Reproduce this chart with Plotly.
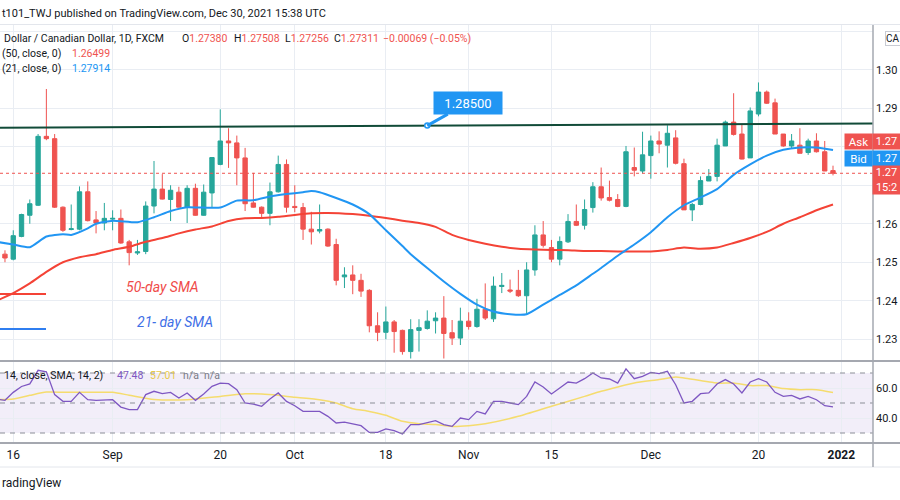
import numpy as np
import pandas as pd
import plotly.graph_objects as go

# ---------------- data ----------------
trading_days = pd.bdate_range("2021-08-13", "2022-01-03")

opens = [1.2521, 1.2508, 1.2567, 1.2622, 1.2648, 1.2827, 1.2821, 1.2643, 1.2585, 1.2586,
         1.2683, 1.2610, 1.2602, 1.2612, 1.2614, 1.2553, 1.2524, 1.2528, 1.2646, 1.2690,
         1.2663, 1.2682, 1.2643, 1.2692, 1.2622, 1.2680, 1.2754, 1.2815, 1.2810, 1.2771,
         1.2654, 1.2643, 1.2627, 1.2683, 1.2754, 1.2645, 1.2642, 1.2586, 1.2581, 1.2586,
         1.2546, 1.2462, 1.2467, 1.2453, 1.2427, 1.2335, 1.2318, 1.2345, 1.2323, 1.2268,
         1.2323, 1.2328, 1.2348, 1.2355, 1.2317, 1.2303, 1.2347, 1.2333, 1.2378, 1.2353,
         1.2437, 1.2428, 1.2427, 1.2413, 1.2480, 1.2571, 1.2538, 1.2508, 1.2553, 1.2606,
         1.2596, 1.2642, 1.2696, 1.2668, 1.2663, 1.2645, 1.2746, 1.2737, 1.2777, 1.2815,
         1.2804, 1.2823, 1.2756, 1.2636, 1.2650, 1.2711, 1.2723, 1.2802, 1.2864, 1.2833,
         1.2771, 1.2885, 1.2942, 1.2914, 1.2833, 1.2802, 1.2804, 1.2785, 1.2815, 1.2787,
         1.27380]
highs = [1.2531, 1.2583, 1.2626, 1.2663, 1.2833, 1.2950, 1.2833, 1.2645, 1.2650, 1.2697,
         1.2710, 1.2633, 1.2654, 1.2635, 1.2637, 1.2558, 1.2558, 1.2658, 1.2763, 1.2729,
         1.2700, 1.2696, 1.2700, 1.2704, 1.2702, 1.2772, 1.2897, 1.2848, 1.2829, 1.2797,
         1.2732, 1.2645, 1.2707, 1.2777, 1.2767, 1.2700, 1.2654, 1.2631, 1.2650, 1.2588,
         1.2561, 1.2487, 1.2492, 1.2470, 1.2430, 1.2370, 1.2385, 1.2350, 1.2325, 1.2352,
         1.2352, 1.2375, 1.2370, 1.2412, 1.2350, 1.2382, 1.2370, 1.2405, 1.2445, 1.2463,
         1.2472, 1.2455, 1.2480, 1.2500, 1.2596, 1.2607, 1.2558, 1.2567, 1.2625, 1.2650,
         1.2663, 1.2708, 1.2746, 1.2712, 1.2677, 1.2802, 1.2798, 1.2839, 1.2829, 1.2840,
         1.2856, 1.2843, 1.2769, 1.2654, 1.2723, 1.2742, 1.2821, 1.2868, 1.2939, 1.2858,
         1.2902, 1.2967, 1.2946, 1.2925, 1.2833, 1.2833, 1.2848, 1.2821, 1.2835, 1.2815,
         1.27508]
lows = [1.2500, 1.2505, 1.2565, 1.2600, 1.2646, 1.2817, 1.2641, 1.2579, 1.2583, 1.2583,
        1.2606, 1.2575, 1.2583, 1.2583, 1.2548, 1.2492, 1.2519, 1.2521, 1.2627, 1.2663,
        1.2607, 1.2642, 1.2602, 1.2621, 1.2621, 1.2642, 1.2752, 1.2745, 1.2700, 1.2633,
        1.2642, 1.2613, 1.2596, 1.2681, 1.2629, 1.2630, 1.2558, 1.2546, 1.2575, 1.2540,
        1.2440, 1.2433, 1.2417, 1.2410, 1.2318, 1.2295, 1.2300, 1.2265, 1.2260, 1.2250,
        1.2268, 1.2325, 1.2315, 1.2250, 1.2285, 1.2285, 1.2325, 1.2330, 1.2350, 1.2345,
        1.2420, 1.2420, 1.2410, 1.2365, 1.2465, 1.2538, 1.2500, 1.2492, 1.2550, 1.2594,
        1.2585, 1.2629, 1.2660, 1.2658, 1.2643, 1.2643, 1.2723, 1.2731, 1.2717, 1.2783,
        1.2746, 1.2754, 1.2636, 1.2607, 1.2648, 1.2711, 1.2710, 1.2802, 1.2829, 1.2767,
        1.2771, 1.2879, 1.2911, 1.2833, 1.2800, 1.2796, 1.2783, 1.2779, 1.2785, 1.2737,
        1.27256]
closes = [1.2511, 1.2569, 1.2624, 1.2652, 1.2827, 1.2821, 1.2643, 1.2583, 1.2587, 1.2683,
          1.2608, 1.2602, 1.2614, 1.2614, 1.2550, 1.2525, 1.2527, 1.2646, 1.2690, 1.2664,
          1.2687, 1.2643, 1.2692, 1.2622, 1.2682, 1.2772, 1.2815, 1.2810, 1.2771, 1.2652,
          1.2643, 1.2627, 1.2683, 1.2754, 1.2643, 1.2642, 1.2586, 1.2579, 1.2585, 1.2542,
          1.2453, 1.2467, 1.2453, 1.2425, 1.2335, 1.2318, 1.2345, 1.2320, 1.2268, 1.2325,
          1.2330, 1.2347, 1.2355, 1.2315, 1.2303, 1.2347, 1.2333, 1.2378, 1.2355, 1.2438,
          1.2440, 1.2425, 1.2413, 1.2480, 1.2571, 1.2544, 1.2508, 1.2554, 1.2606, 1.2596,
          1.2637, 1.2696, 1.2667, 1.2661, 1.2645, 1.2787, 1.2739, 1.2779, 1.2815, 1.2807,
          1.2835, 1.2757, 1.2636, 1.2650, 1.2712, 1.2723, 1.2804, 1.2864, 1.2832, 1.2768,
          1.2893, 1.2942, 1.2913, 1.2833, 1.2802, 1.2815, 1.2783, 1.2815, 1.2787, 1.2737,
          1.27311]

sma21_days = [-1, 1, 3, 5, 7, 8, 10, 11, 13, 16, 18, 20, 22, 24, 26, 28, 30, 32, 34, 36,
              37, 38, 40, 42, 44, 46, 48, 49, 51, 53, 55, 57, 59, 61, 63, 65, 67, 69, 71, 72,
              74, 76, 78, 80, 82, 84, 86, 88, 90, 92, 94, 96, 98, 100]
sma21_vals = [1.2553, 1.2546, 1.2539, 1.2567, 1.2573, 1.2571, 1.2588, 1.2600, 1.2608, 1.2604,
              1.2617, 1.2633, 1.2643, 1.2642, 1.2642, 1.2660, 1.2661, 1.2671, 1.2677, 1.2682,
              1.2685, 1.2682, 1.2667, 1.2650, 1.2625, 1.2583, 1.2542, 1.2521, 1.2485, 1.2450,
              1.2418, 1.2390, 1.2372, 1.2365, 1.2365, 1.2390, 1.2415, 1.2440, 1.2470, 1.2485,
              1.2517, 1.2546, 1.2578, 1.2617, 1.2648, 1.2668, 1.2690, 1.2727, 1.2754, 1.2777,
              1.2792, 1.2798, 1.2798, 1.27914]

sma50_days = [-1, 1, 3, 5, 7, 9, 11, 13, 15, 17, 19, 21, 23, 25, 27, 29, 31, 33, 35, 37,
              39, 42, 44, 46, 48, 50, 52, 54, 56, 58, 60, 62, 64, 66, 68, 70, 72, 74, 76, 78,
              80, 82, 84, 86, 88, 90, 92, 94, 96, 98, 100]
sma50_vals = [1.2400, 1.2420, 1.2445, 1.2475, 1.2500, 1.2513, 1.2521, 1.2532, 1.2540, 1.2553,
              1.2563, 1.2575, 1.2585, 1.2593, 1.2607, 1.2614, 1.2615, 1.2618, 1.2623, 1.2627,
              1.2628, 1.2625, 1.2621, 1.2615, 1.2608, 1.2602, 1.2592, 1.2571, 1.2558, 1.2548,
              1.2540, 1.2535, 1.2533, 1.2532, 1.2531, 1.2529, 1.2529, 1.2528, 1.2528, 1.2528,
              1.2532, 1.2538, 1.2535, 1.2538, 1.2550, 1.2563, 1.2579, 1.2600, 1.2617, 1.2635,
              1.26499]

rsi_days = list(range(-1, 101))
rsi_vals = [52.5,
            51.8, 57.1, 61.0, 62.7, 71.8, 70.8, 55.6, 51.1, 51.1, 57.1,
            52.2, 51.8, 52.2, 52.2, 47.3, 45.6, 45.6, 55.6, 57.8, 56.2,
            57.1, 53.3, 56.7, 51.8, 56.0, 61.1, 63.3, 62.9, 58.9, 50.0,
            49.3, 47.8, 52.7, 56.7, 51.1, 48.2, 44.4, 44.4, 44.4, 41.1,
            36.7, 37.3, 36.2, 34.9, 30.4, 30.4, 32.7, 31.6, 29.3, 35.6,
            35.6, 37.1, 38.2, 35.6, 34.4, 40.0, 38.9, 44.4, 42.7, 51.1,
            51.1, 50.0, 48.9, 54.4, 64.0, 60.7, 56.0, 60.0, 64.0, 63.3,
            66.2, 70.0, 66.7, 66.0, 63.3, 72.7, 66.2, 67.8, 70.4, 69.6,
            71.1, 62.2, 50.0, 51.1, 56.2, 56.7, 62.7, 65.6, 62.7, 56.7,
            64.0, 66.2, 64.0, 57.1, 54.4, 55.1, 52.7, 54.4, 52.2, 48.2, 47.48]

rsi_sma_days = [-1, 1, 3, 5, 8, 13, 15, 18, 22, 26, 29, 31, 33, 35, 38, 40, 42, 44, 46, 48,
                50, 52, 54, 56, 58, 62, 66, 70, 72, 74, 76, 79, 81, 82, 86, 88, 90, 92, 94, 96,
                98, 100]
rsi_sma_vals = [52.2, 52.7, 55.1, 57.3, 57.1, 57.1, 55.2, 52.4, 52.2, 54.4, 56.2, 56.0, 55.1,
                53.8, 52.2, 50.0, 46.2, 44.4, 41.8, 37.8, 36.2, 35.6, 34.4, 34.9, 36.2, 41.1,
                47.8, 54.4, 57.8, 60.7, 63.3, 65.6, 67.3, 66.7, 63.3, 63.3, 61.6, 61.6, 59.6,
                58.9, 58.9, 57.01]

trend_days = [-1, 105]
trend_prices = [1.28495, 1.28605]
callout_day = 51
callout_text = "1.28500"
last_close = 1.27311

tick_dates = ["2021-08-16", "2021-09-01", "2021-09-20", "2021-10-01", "2021-10-18",
              "2021-11-01", "2021-11-15", "2021-12-01", "2021-12-20", "2022-01-03"]
tick_labels = ["16", "Sep", "20", "Oct", "18", "Nov", "15", "Dec", "20", "<b>2022</b>"]
price_ticks = [1.23, 1.24, 1.25, 1.26, 1.27, 1.28, 1.29, 1.30, 1.31]
# 1.27 / 1.28 / 1.31 labels are hidden behind the price-scale boxes in the original
price_tick_labels = ["1.23", "1.24", "1.25", "1.26", "", "", "1.29", "1.30", ""]
rsi_ticks = [40, 60]
rsi_tick_labels = ["40.0", "60.0"]
rsi_band = [30, 70]
rsi_levels = [30, 50, 70]

# ---------------- styling / layout helpers ----------------
GREEN = "#26a69a"
RED = "#ef5350"
BLUE = "#2196f3"
PURPLE = "#7e57c2"
YELLOW = "#f5dc6e"
GRID = "#e9edf3"
TXT = "#131722"
FONT = "Roboto, 'Liberation Sans', sans-serif"

PL, PR, PT, PB = 0, 873, 25, 443      # plot area in pixels
SPLIT_PX = 361
SPLIT = (PB - SPLIT_PX) / (PB - PT)


def fx(px):
    return (px - PL) / (PR - PL)


def fy(py):
    return (PB - py) / (PB - PT)


day_idx = list(range(len(opens)))
tick_pos = [int(trading_days.get_loc(pd.Timestamp(d))) for d in tick_dates]

fig = go.Figure()

fig.add_trace(go.Candlestick(
    x=day_idx, open=opens, high=highs, low=lows, close=closes,
    increasing=dict(line=dict(color=GREEN, width=1), fillcolor=GREEN),
    decreasing=dict(line=dict(color=RED, width=1), fillcolor=RED),
    whiskerwidth=0, hoverinfo="skip", showlegend=False, xaxis="x", yaxis="y"))

fig.add_trace(go.Scatter(x=sma50_days, y=sma50_vals, mode="lines",
                         line=dict(color="#f44336", width=2, shape="spline", smoothing=0.5),
                         hoverinfo="skip", xaxis="x", yaxis="y"))
fig.add_trace(go.Scatter(x=sma21_days, y=sma21_vals, mode="lines",
                         line=dict(color=BLUE, width=2, shape="spline", smoothing=0.5),
                         hoverinfo="skip", xaxis="x", yaxis="y"))
fig.add_trace(go.Scatter(x=trend_days, y=trend_prices, mode="lines",
                         line=dict(color="#114b38", width=2),
                         hoverinfo="skip", xaxis="x", yaxis="y"))
callout_price = float(np.interp(callout_day, trend_days, trend_prices))
fig.add_trace(go.Scatter(x=[callout_day], y=[callout_price], mode="markers",
                         marker=dict(size=5, color="white", line=dict(color=BLUE, width=1.5)),
                         hoverinfo="skip", xaxis="x", yaxis="y"))

fig.add_trace(go.Scatter(x=rsi_sma_days, y=rsi_sma_vals, mode="lines",
                         line=dict(color=YELLOW, width=1.5, shape="spline", smoothing=0.6),
                         hoverinfo="skip", xaxis="x", yaxis="y2"))
fig.add_trace(go.Scatter(x=rsi_days, y=rsi_vals, mode="lines",
                         line=dict(color=PURPLE, width=1.3),
                         hoverinfo="skip", xaxis="x", yaxis="y2"))

shapes = []
shapes.append(dict(type="rect", xref="paper", yref="y2", x0=0, x1=1, y0=rsi_band[0], y1=rsi_band[1],
                   fillcolor="rgba(126,87,194,0.10)", line=dict(width=0), layer="below"))
for lv in rsi_levels:
    shapes.append(dict(type="line", xref="paper", yref="y2", x0=0, x1=1, y0=lv, y1=lv,
                       line=dict(color="#8b8e97", width=1, dash="5px,5px")))
shapes.append(dict(type="line", xref="paper", yref="y", x0=0, x1=1, y0=last_close, y1=last_close,
                   line=dict(color=RED, width=1, dash="dot")))


def hline(py, x0=0, x1=900, color="#a5a8b0", width=1):
    return dict(type="line", xref="paper", yref="paper", x0=fx(x0), x1=fx(x1),
                y0=fy(py), y1=fy(py), line=dict(color=color, width=width))


shapes += [
    hline(24.5, color="#e3e6ec"),
    hline(SPLIT_PX, color="#a5a8b0", width=2),
    hline(PB, color="#a5a8b0", width=2),
    hline(467, color="#e3e6ec"),
    dict(type="line", xref="paper", yref="paper", x0=fx(873), x1=fx(873), y0=fy(25), y1=fy(467),
         line=dict(color="#a5a8b0", width=1.5)),
    hline(294, 0, 46, color="#f44336", width=2),
    hline(329, 0, 46, color="#2f7ef0", width=2),
]

anns = []


def ann(text, px, py, size=10.5, color=TXT, xanchor="left", **kw):
    d = dict(text=text, x=fx(px), y=fy(py), xref="paper", yref="paper", xanchor=xanchor,
             yanchor="middle", showarrow=False, font=dict(size=size, color=color, family=FONT))
    d.update(kw)
    return d


def val(t, c):
    return f"<span style='color:{c}'>{t}</span>"


anns += [
    ann("t101_TWJ published on TradingView.com, Dec 30, 2021 15:38 UTC", 0, 14, size=11),
    ann("Dollar / Canadian Dollar, 1D, FXCM", 2, 38),
    ann("O" + val("1.27380", RED), 180, 38),
    ann("H" + val("1.27508", RED), 232, 38),
    ann("L" + val("1.27256", RED), 283, 38),
    ann("C" + val("1.27311", RED), 332, 38),
    ann(val("\u22120.00069 (\u22120.05%)", RED), 381, 38),
    ann("(50, close, 0)", 0, 53),
    ann(val("1.26499", RED), 70, 53),
    ann("(21, close, 0)", 0, 68),
    ann(val("1.27914", BLUE), 70, 68),
    ann("14, close, SMA, 14, 2)", 2, 375),
    ann(val("47.48", PURPLE), 115, 375),
    ann(val("57.01", "#e8c94a"), 148, 375),
    ann("n/a\u00a0\u00a0n/a", 181, 375, color="#787b86"),
    ann("<i>50-day SMA</i>", 162, 287, size=14, color="#ef4b48", xanchor="center"),
    ann("<i>21- day SMA</i>", 175, 322, size=14, color="#3f6fe6", xanchor="center"),
    ann("radingView", 0, 483, size=12),
    # price-scale labels
    ann("Ask", 858.5, 141.5, size=11.5, color="white", xanchor="center", bgcolor=RED,
        width=27, height=15, borderpad=0),
    ann("1.27", 886.5, 141.5, size=11, color="white", xanchor="center", bgcolor=RED,
        width=27, height=15, borderpad=0),
    ann("Bid", 858.5, 158.5, size=11.5, color="white", xanchor="center", bgcolor=BLUE,
        width=27, height=15, borderpad=0),
    ann("1.27", 886.5, 158.5, size=11, color="white", xanchor="center", bgcolor=BLUE,
        width=27, height=15, borderpad=0),
    ann("1.27<br>15:2", 886.5, 180, size=11, color="white", xanchor="center", bgcolor=RED,
        width=27, height=28, borderpad=0),
    ann("CA", 885, 39, size=10, color=TXT, bgcolor="white", bordercolor="#c8cbd3",
        borderwidth=1, width=14, height=13, borderpad=0, align="left"),
]

anns.append(dict(text=callout_text, x=callout_day, y=callout_price, xref="x", yref="y",
                 showarrow=True, arrowhead=0, arrowwidth=3, arrowcolor=BLUE, ax=41, ay=-23,
                 standoff=0, bgcolor=BLUE, borderpad=4, width=60, height=14,
                 font=dict(size=13, color="white", family=FONT)))

fig.update_layout(
    width=900, height=500,
    margin=dict(l=PL, r=900 - PR, t=PT, b=500 - PB),
    paper_bgcolor="white", plot_bgcolor="white", showlegend=False,
    font=dict(family=FONT, color=TXT, size=12),
    boxgap=0.25,
    xaxis=dict(domain=[0, 1], anchor="y2", range=[-0.6, 104.83],
               tickvals=tick_pos, ticktext=tick_labels, showgrid=True, gridcolor=GRID,
               zeroline=False, showline=False, ticks="", ticklabelstandoff=3,
               tickfont=dict(size=12, color=TXT), rangeslider=dict(visible=False),
               fixedrange=True),
    yaxis=dict(domain=[SPLIT, 1], anchor="x", side="right", range=[1.22435, 1.31162],
               tickvals=price_ticks, ticktext=price_tick_labels, showgrid=True, gridcolor=GRID,
               zeroline=False, showline=False, ticks="", ticklabelstandoff=2,
               tickfont=dict(size=11, color=TXT), fixedrange=True),
    yaxis2=dict(domain=[0, SPLIT], anchor="x", side="right", range=[23.33, 78],
                tickvals=rsi_ticks, ticktext=rsi_tick_labels, showgrid=True, gridcolor=GRID,
                zeroline=False, showline=False, ticks="", ticklabelstandoff=2,
                tickfont=dict(size=11, color=TXT), fixedrange=True),
    shapes=shapes, annotations=anns,
)

fig.write_html("out.html", config={"displayModeBar": False, "staticPlot": True},
               post_script="document.body.style.margin='0';document.body.style.overflow='hidden';")
